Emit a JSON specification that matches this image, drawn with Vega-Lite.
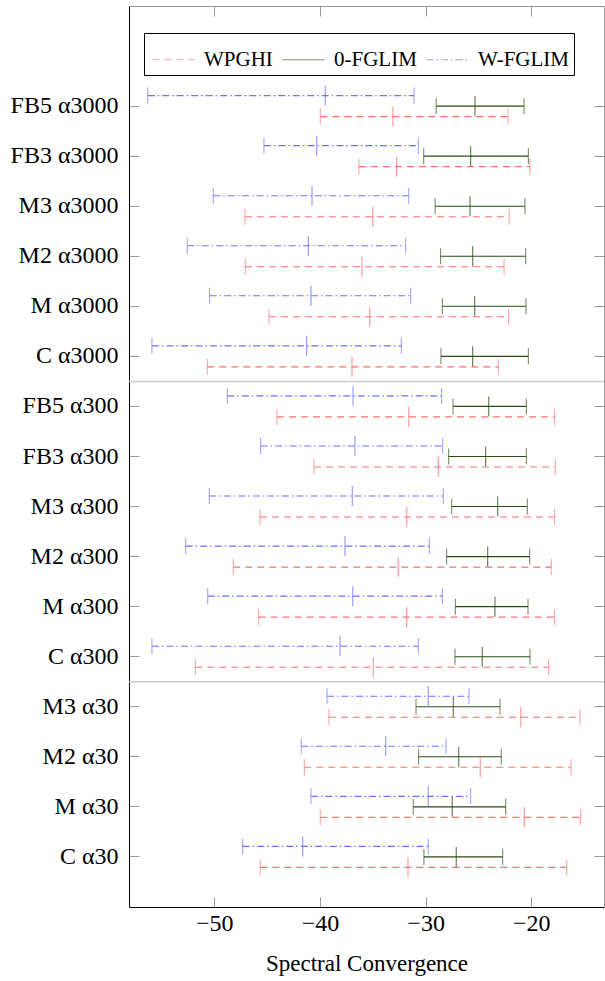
{
  "$schema": "https://vega.github.io/schema/vega-lite/v6.json",
  "width": 475,
  "height": 901,
  "autosize": {"type": "none"},
  "padding": {"left": 129, "top": 6, "right": 1, "bottom": 74},
  "background": "white",
  "config": {
    "view": {"stroke": null},
    "font": "Liberation Serif",
    "axis": {"labelFont": "Liberation Serif", "titleFont": "Liberation Serif", "labelColor": "black", "titleColor": "black", "grid": false}
  },
  "datasets": {
    "bars": [
      {"label": "FB5 α3000", "series": "W-FGLIM", "lo": -56.3, "mean": -39.5, "hi": -31.1},
      {"label": "FB5 α3000", "series": "0-FGLIM", "lo": -29.0, "mean": -25.33, "hi": -20.69},
      {"label": "FB5 α3000", "series": "WPGHI", "lo": -39.97, "mean": -33.09, "hi": -22.2},
      {"label": "FB3 α3000", "series": "W-FGLIM", "lo": -45.3, "mean": -40.31, "hi": -30.69},
      {"label": "FB3 α3000", "series": "0-FGLIM", "lo": -30.18, "mean": -25.74, "hi": -20.28},
      {"label": "FB3 α3000", "series": "WPGHI", "lo": -36.31, "mean": -32.74, "hi": -20.13},
      {"label": "M3 α3000", "series": "W-FGLIM", "lo": -50.1, "mean": -40.75, "hi": -31.6},
      {"label": "M3 α3000", "series": "0-FGLIM", "lo": -29.1, "mean": -25.8, "hi": -20.6},
      {"label": "M3 α3000", "series": "WPGHI", "lo": -47.1, "mean": -35.0, "hi": -22.1},
      {"label": "M2 α3000", "series": "W-FGLIM", "lo": -52.56, "mean": -41.1, "hi": -31.89},
      {"label": "M2 α3000", "series": "0-FGLIM", "lo": -28.58, "mean": -25.55, "hi": -20.53},
      {"label": "M2 α3000", "series": "WPGHI", "lo": -47.07, "mean": -36.02, "hi": -22.58},
      {"label": "M α3000", "series": "W-FGLIM", "lo": -50.44, "mean": -40.85, "hi": -31.41},
      {"label": "M α3000", "series": "0-FGLIM", "lo": -28.42, "mean": -25.36, "hi": -20.5},
      {"label": "M α3000", "series": "WPGHI", "lo": -44.82, "mean": -35.29, "hi": -22.14},
      {"label": "C α3000", "series": "W-FGLIM", "lo": -55.9, "mean": -41.26, "hi": -32.3},
      {"label": "C α3000", "series": "0-FGLIM", "lo": -28.55, "mean": -25.55, "hi": -20.28},
      {"label": "C α3000", "series": "WPGHI", "lo": -50.66, "mean": -36.97, "hi": -23.12},
      {"label": "FB5 α300", "series": "W-FGLIM", "lo": -48.77, "mean": -36.87, "hi": -28.48},
      {"label": "FB5 α300", "series": "0-FGLIM", "lo": -27.41, "mean": -24.03, "hi": -20.47},
      {"label": "FB5 α300", "series": "WPGHI", "lo": -44.07, "mean": -31.6, "hi": -17.79},
      {"label": "FB3 α300", "series": "W-FGLIM", "lo": -45.61, "mean": -36.69, "hi": -28.39},
      {"label": "FB3 α300", "series": "0-FGLIM", "lo": -27.82, "mean": -24.32, "hi": -20.47},
      {"label": "FB3 α300", "series": "WPGHI", "lo": -40.56, "mean": -28.8, "hi": -17.73},
      {"label": "M3 α300", "series": "W-FGLIM", "lo": -50.47, "mean": -36.94, "hi": -28.33},
      {"label": "M3 α300", "series": "0-FGLIM", "lo": -27.53, "mean": -23.18, "hi": -20.38},
      {"label": "M3 α300", "series": "WPGHI", "lo": -45.67, "mean": -31.79, "hi": -17.79},
      {"label": "M2 α300", "series": "W-FGLIM", "lo": -52.71, "mean": -37.63, "hi": -29.65},
      {"label": "M2 α300", "series": "0-FGLIM", "lo": -28.01, "mean": -24.13, "hi": -20.15},
      {"label": "M2 α300", "series": "WPGHI", "lo": -48.2, "mean": -32.59, "hi": -18.11},
      {"label": "M α300", "series": "W-FGLIM", "lo": -50.62, "mean": -36.9, "hi": -28.42},
      {"label": "M α300", "series": "0-FGLIM", "lo": -27.19, "mean": -23.44, "hi": -20.31},
      {"label": "M α300", "series": "WPGHI", "lo": -45.8, "mean": -31.79, "hi": -17.79},
      {"label": "C α300", "series": "W-FGLIM", "lo": -55.9, "mean": -38.1, "hi": -30.69},
      {"label": "C α300", "series": "0-FGLIM", "lo": -27.22, "mean": -24.64, "hi": -20.12},
      {"label": "C α300", "series": "WPGHI", "lo": -51.8, "mean": -34.95, "hi": -18.36},
      {"label": "M3 α30", "series": "W-FGLIM", "lo": -39.33, "mean": -29.75, "hi": -25.9},
      {"label": "M3 α30", "series": "0-FGLIM", "lo": -30.91, "mean": -27.38, "hi": -22.96},
      {"label": "M3 α30", "series": "WPGHI", "lo": -39.15, "mean": -21.0, "hi": -15.39},
      {"label": "M2 α30", "series": "W-FGLIM", "lo": -41.77, "mean": -33.78, "hi": -28.07},
      {"label": "M2 α30", "series": "0-FGLIM", "lo": -30.66, "mean": -26.87, "hi": -22.84},
      {"label": "M2 α30", "series": "WPGHI", "lo": -41.48, "mean": -24.83, "hi": -16.24},
      {"label": "M α30", "series": "W-FGLIM", "lo": -40.85, "mean": -29.75, "hi": -25.74},
      {"label": "M α30", "series": "0-FGLIM", "lo": -31.17, "mean": -27.48, "hi": -22.42},
      {"label": "M α30", "series": "WPGHI", "lo": -39.97, "mean": -20.66, "hi": -15.33},
      {"label": "C α30", "series": "W-FGLIM", "lo": -47.31, "mean": -41.63, "hi": -29.75},
      {"label": "C α30", "series": "0-FGLIM", "lo": -30.16, "mean": -27.1, "hi": -22.71},
      {"label": "C α30", "series": "WPGHI", "lo": -45.65, "mean": -31.67, "hi": -16.65}
    ],
    "separators": [{"label": "C α3000"}, {"label": "C α300"}]
  },
  "layer": [
    {
      "data": {"name": "separators"},
      "mark": {"type": "rule", "color": "#cccccc", "strokeWidth": 1.5},
      "encoding": {
        "y": {"field": "label", "type": "nominal", "bandPosition": 1, "axis": null,
          "scale": {"domain": ["FB5 α3000", "FB3 α3000", "M3 α3000", "M2 α3000", "M α3000", "C α3000", "FB5 α300", "FB3 α300", "M3 α300", "M2 α300", "M α300", "C α300", "M3 α30", "M2 α30", "M α30", "C α30"], "paddingInner": 0, "paddingOuter": 1, "align": 0.75}}
      }
    },
    {
      "data": {"name": "bars"},
      "mark": {"type": "rule", "strokeWidth": 1.1},
      "encoding": {
        "x": {"field": "lo", "type": "quantitative",
          "scale": {"domain": [-58.07, -13.12], "nice": false, "zero": false},
          "axis": {"orient": "bottom", "values": [-50, -40, -30, -20], "domainColor": "black", "domainWidth": 1, "tickColor": "#999999", "tickSize": -10, "tickWidth": 1, "labelPadding": 14, "labelFontSize": 24, "title": "Spectral Convergence", "titleFontSize": 23, "titleFontWeight": "normal", "titlePadding": 17}},
        "x2": {"field": "hi"},
        "y": {"field": "label", "type": "nominal",
          "scale": {"domain": ["FB5 α3000", "FB3 α3000", "M3 α3000", "M2 α3000", "M α3000", "C α3000", "FB5 α300", "FB3 α300", "M3 α300", "M2 α300", "M α300", "C α300", "M3 α30", "M2 α30", "M α30", "C α30"], "paddingInner": 0, "paddingOuter": 1, "align": 0.75},
          "axis": {"orient": "left", "domainColor": "black", "domainWidth": 1, "tickColor": "#999999", "tickSize": -10, "tickWidth": 1, "labelPadding": 21, "labelFontSize": 24, "title": null, "labelLimit": 0}},
        "yOffset": {"field": "series", "type": "nominal", "scale": {"type": "point", "domain": ["W-FGLIM", "0-FGLIM", "WPGHI"], "range": [14.5, 35.5], "padding": 0}},
        "color": {"field": "series", "type": "nominal",
          "scale": {"domain": ["WPGHI", "0-FGLIM", "W-FGLIM"], "range": ["#ff7070", "#2a4d12", "#7070ff"]},
          "legend": {"orient": "none", "legendX": 15, "legendY": 27, "direction": "horizontal", "title": null, "strokeColor": "black", "fillColor": "white", "padding": 5, "symbolOffset": 3, "symbolType": "stroke", "symbolSize": 1764, "symbolStrokeWidth": 1, "labelFontSize": 21, "labelFont": "Liberation Serif", "labelColor": "black", "labelOffset": 9, "columnPadding": 6, "labelLimit": 0}},
        "strokeDash": {"field": "series", "type": "nominal",
          "scale": {"domain": ["WPGHI", "0-FGLIM", "W-FGLIM"], "range": [[7, 5], [1, 0], [7, 3, 1.5, 3]]}}
      }
    },
    {
      "data": {"name": "bars"},
      "mark": {"type": "tick", "size": 16, "thickness": 1},
      "encoding": {
        "x": {"field": "lo", "type": "quantitative", "axis": null},
        "y": {"field": "label", "type": "nominal", "axis": null,
          "scale": {"domain": ["FB5 α3000", "FB3 α3000", "M3 α3000", "M2 α3000", "M α3000", "C α3000", "FB5 α300", "FB3 α300", "M3 α300", "M2 α300", "M α300", "C α300", "M3 α30", "M2 α30", "M α30", "C α30"], "paddingInner": 0, "paddingOuter": 1, "align": 0.75}},
        "yOffset": {"field": "series", "type": "nominal"},
        "color": {"field": "series", "type": "nominal"}
      }
    },
    {
      "data": {"name": "bars"},
      "mark": {"type": "tick", "size": 16, "thickness": 1},
      "encoding": {
        "x": {"field": "hi", "type": "quantitative", "axis": null},
        "y": {"field": "label", "type": "nominal", "axis": null,
          "scale": {"domain": ["FB5 α3000", "FB3 α3000", "M3 α3000", "M2 α3000", "M α3000", "C α3000", "FB5 α300", "FB3 α300", "M3 α300", "M2 α300", "M α300", "C α300", "M3 α30", "M2 α30", "M α30", "C α30"], "paddingInner": 0, "paddingOuter": 1, "align": 0.75}},
        "yOffset": {"field": "series", "type": "nominal"},
        "color": {"field": "series", "type": "nominal"}
      }
    },
    {
      "data": {"name": "bars"},
      "mark": {"type": "tick", "size": 20, "thickness": 1.2},
      "encoding": {
        "x": {"field": "mean", "type": "quantitative",
          "axis": {"orient": "top", "values": [-50, -40, -30, -20], "labels": false, "domainColor": "#999999", "domainWidth": 1, "tickColor": "#999999", "tickSize": -10, "tickWidth": 1, "title": null}},
        "y": {"field": "label", "type": "nominal",
          "scale": {"domain": ["FB5 α3000", "FB3 α3000", "M3 α3000", "M2 α3000", "M α3000", "C α3000", "FB5 α300", "FB3 α300", "M3 α300", "M2 α300", "M α300", "C α300", "M3 α30", "M2 α30", "M α30", "C α30"], "paddingInner": 0, "paddingOuter": 1, "align": 0.75},
          "axis": {"orient": "right", "labels": false, "domainColor": "#999999", "domainWidth": 1, "tickColor": "#999999", "tickSize": -10, "tickWidth": 1, "title": null}},
        "yOffset": {"field": "series", "type": "nominal"},
        "color": {"field": "series", "type": "nominal"}
      }
    }
  ],
  "resolve": {"axis": {"x": "independent", "y": "independent"}}
}
